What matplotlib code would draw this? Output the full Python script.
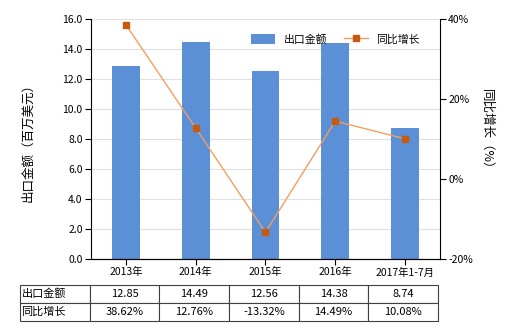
import matplotlib
matplotlib.use('Agg')
import matplotlib.pyplot as plt
import numpy as np

plt.rcParams['font.family'] = ['Noto Sans CJK SC', 'DejaVu Sans']

# Données
categories = ['2013年', '2014年', '2015年', '2016年', '2017年1-7月']
export_value = [12.85, 14.49, 12.56, 14.38, 8.74]
yoy_growth = [38.62, 12.76, -13.32, 14.49, 10.08]
value_labels = ['12.85', '14.49', '12.56', '14.38', '8.74']
growth_labels = ['38.62%', '12.76%', '-13.32%', '14.49%', '10.08%']

bar_color = '#5B8FD6'
line_color = '#F0A060'
marker_color = '#C85A10'

fig = plt.figure(figsize=(5.2, 3.3), dpi=100)
ax = fig.add_axes([0.175, 0.215, 0.671, 0.727])
x = np.arange(len(categories))

ax.bar(x, export_value, width=0.4, color=bar_color, zorder=2, label='出口金额')
ax.set_xlim(-0.5, len(categories) - 0.5)
ax.set_ylim(0, 16)
ax.set_yticks(np.arange(0, 16.1, 2))
ax.set_yticklabels(['%.1f' % v for v in np.arange(0, 16.1, 2)], fontsize=7.5)
ax.set_xticks(x)
ax.set_xticklabels(categories, fontsize=7.5)
ax.grid(axis='y', color='#E0E0E0', linewidth=0.8, zorder=0)
ax.set_ylabel('出口金额（百万美元）', fontsize=9)
ax.yaxis.set_label_coords(-0.163, 0.5)
for s in ['top', 'right']:
    ax.spines[s].set_visible(False)
ax.tick_params(length=4, width=0.8, pad=2)

ax2 = ax.twinx()
ax2.plot(x, yoy_growth, color=line_color, linewidth=1, marker='s', markersize=4.5,
         markerfacecolor=marker_color, markeredgecolor=marker_color, zorder=3, label='同比增长')
ax2.set_ylim(-20, 40)
ax2.set_yticks([-20, 0, 20, 40])
ax2.set_yticklabels(['-20%', '0%', '20%', '40%'], fontsize=7.5)
ax2.set_ylabel('同比增长（%）', fontsize=9, rotation=-90)
ax2.yaxis.set_label_coords(1.152, 0.53)
for s in ['top', 'left']:
    ax2.spines[s].set_visible(False)
ax2.tick_params(length=4, width=0.8, pad=2)

# Légende
h1, l1 = ax.get_legend_handles_labels()
h2, l2 = ax2.get_legend_handles_labels()
ax2.legend(h1 + h2, l1 + l2, loc='upper right', bbox_to_anchor=(0.97, 0.98), ncol=2,
           frameon=False, fontsize=7.8, handlelength=2.2, handleheight=1.1,
           columnspacing=1.5)

# Tableau sous le graphique
cell_text = [['出口金额'] + value_labels, ['同比增长'] + growth_labels]
tbl = ax.table(cellText=cell_text, cellLoc='center',
               bbox=[-0.2034, -0.258, 1.198, 0.15])
tbl.auto_set_font_size(False)
tbl.set_fontsize(8)
for (r, c), cell in tbl.get_celld().items():
    cell.set_edgecolor('#404040')
    cell.set_linewidth(0.8)
    if c == 0:
        cell.PAD = 0.02
        cell.set_text_props(ha='left')
        cell._loc = 'left'

fig.savefig('out.png', dpi=100)
